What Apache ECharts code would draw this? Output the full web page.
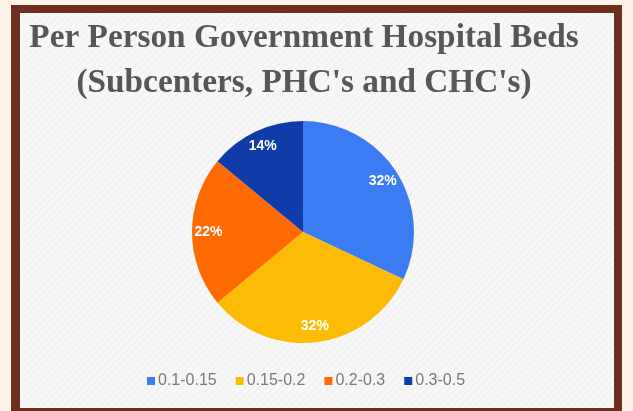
<!DOCTYPE html>
<html>
<head>
<meta charset="utf-8">
<script src="https://cdn.jsdelivr.net/npm/echarts@6/dist/echarts.min.js"></script>
<style>
  html, body { margin: 0; padding: 0; width: 633px; height: 411px; overflow: hidden; background: #fdf3e6; }
  #frame { position: absolute; left: 11px; top: 5px; width: 611px; height: 410px; background: #6e2f1f; }
  #panel {
    position: absolute; left: 20px; top: 13px; width: 594px; height: 395px;
    background: repeating-linear-gradient(135deg, #f7f7f7 0px, #f7f7f7 3px, #efefef 4px, #f7f7f7 5px);
  }
  #chart { position: absolute; left: 0; top: 0; width: 633px; height: 411px; }
</style>
</head>
<body>
<div id="frame"></div>
<div id="panel"></div>
<div id="chart"></div>
<script>
// Share of districts by government hospital beds per person
const categories = ['0.1-0.15', '0.15-0.2', '0.2-0.3', '0.3-0.5'];
const shares = [32, 32, 22, 14];
const sliceColors = ['#3b7cf2', '#fcbc05', '#ff6a02', '#0f3ca9'];

const titleLines = ['Per Person Government Hospital Beds', "(Subcenters, PHC's and CHC's)"];

const pieData = categories.map((name, i) => ({ name, value: shares[i] }));

const chart = echarts.init(document.getElementById('chart'), null, { renderer: 'canvas' });

chart.setOption({
  backgroundColor: 'transparent',
  animation: false,
  color: sliceColors,
  title: {
    text: titleLines.join('\n'),
    left: 304,
    textAlign: 'center',
    top: 16,
    padding: 0,
    textStyle: {
      fontFamily: '"Liberation Serif", "Times New Roman", serif',
      fontWeight: 'bold',
      fontSize: 33.3,
      lineHeight: 45,
      color: '#575757'
    }
  },
  legend: {
    data: categories,
    bottom: 22,
    left: 147,
    padding: 0,
    icon: 'rect',
    itemWidth: 8,
    itemHeight: 8,
    itemGap: 19,
    textStyle: {
      fontFamily: '"Liberation Sans", Arial, sans-serif',
      fontSize: 16,
      color: '#7a7a7a',
      padding: [0, 0, 0, -2]
    }
  },
  series: [
    {
      type: 'pie',
      center: [303, 232],
      radius: [0, 111],
      startAngle: 90,
      clockwise: true,
      data: pieData,
      label: { show: false },
      labelLine: { show: false },
      itemStyle: { borderWidth: 0 },
      emphasis: { disabled: true }
    },
    {
      // transparent ring carrying the percentage labels
      type: 'pie',
      center: [303, 232],
      radius: [72, 111],
      startAngle: 90,
      clockwise: true,
      silent: true,
      data: pieData,
      itemStyle: { color: 'rgba(0,0,0,0)' },
      label: {
        show: true,
        position: 'inside',
        formatter: p => p.value + '%',
        color: '#ffffff',
        fontFamily: '"Liberation Sans", Arial, sans-serif',
        fontWeight: 'bold',
        fontSize: 14
      },
      labelLine: { show: false },
      emphasis: { disabled: true }
    }
  ]
});
</script>
</body>
</html>
